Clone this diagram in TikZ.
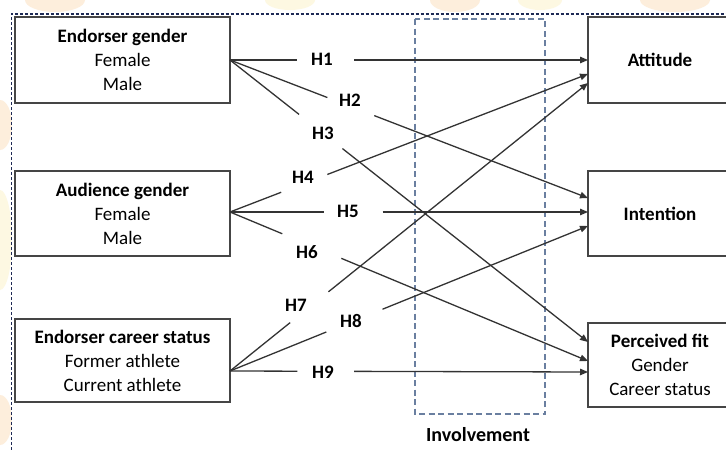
\documentclass[tikz,border=0pt]{standalone}
\usepackage{fontspec}
\setmainfont{Carlito}
\usetikzlibrary{arrows.meta,calc}
\definecolor{boxline}{HTML}{454545}
\definecolor{arrline}{HTML}{333333}
\definecolor{frameblue}{HTML}{1E2A55}
\definecolor{involve}{HTML}{6A7FA0}
\definecolor{wmorange}{HTML}{FDEEDC}
\definecolor{wmyellow}{HTML}{FDF8E2}
\tikzset{
  box/.style={draw=boxline,line width=1.6pt,fill=white,outer sep=0pt,inner sep=0pt,
    minimum width=#1,align=center,font=\fontsize{19}{24}\selectfont},
  hlab/.style={font=\bfseries\fontsize{19}{22}\selectfont,inner sep=0pt,text=black},
  seg/.style={draw=arrline,line width=1.3pt},
  arr/.style={seg,-{Triangle[length=8pt,width=6.5pt]}},
}
\begin{document}
\begin{tikzpicture}[x=1pt,y=-1pt]
\useasboundingbox (0,0) rectangle (726,450);
\clip (0,0) rectangle (726,450);
\fill[white] (0,0) rectangle (726,450);
% faint watermark in the margins
\fill[wmorange] (55,0) ellipse (30pt and 12pt);
\fill[wmyellow] (290,0) ellipse (25pt and 10pt);
\fill[wmorange] (455,0) ellipse (25pt and 12pt);
\fill[wmyellow] (540,0) ellipse (22pt and 10pt);
\fill[wmorange] (675,0) ellipse (35pt and 12pt);
\fill[wmorange] (0,125) ellipse (12pt and 25pt);
\fill[wmyellow] (0,240) ellipse (12pt and 50pt);
\fill[wmorange] (0,420) ellipse (12pt and 25pt);
\fill[white] (11.5,14) rectangle (726,450);
% outer frame
\draw[frameblue,line width=1.1pt,dash pattern=on 3pt off 2pt] (11.5,460) -- (11.5,14) -- (740,14);
% involvement box
\draw[involve,line width=1.3pt,dash pattern=on 6pt off 3.5pt] (415,19) rectangle (545,414);
\node[font=\bfseries\fontsize{20}{24}\selectfont] (inv) at (478,435) {Involvement};
% left boxes
\node[box=215pt,minimum height=86pt] (eg) at (122.5,60) {\textbf{Endorser gender}\\Female\\Male};
\node[box=215pt,minimum height=85pt] (ag) at (122.5,213.5) {\textbf{Audience gender}\\Female\\Male};
\node[box=215pt,minimum height=83pt] (ec) at (122.5,360.5) {\textbf{Endorser career status}\\Former athlete\\Current athlete};
% right boxes
\node[box=144pt,minimum height=86pt] (att) at (660,60) {\textbf{Attitude}};
\node[box=144pt,minimum height=85pt] (int) at (660,213.5) {\textbf{Intention}};
\node[box=144pt,minimum height=84pt] (pf) at (660,365) {\textbf{Perceived fit}\\Gender\\Career status};
% sources
\coordinate (s1) at (eg.east);
\coordinate (s2) at ([yshift=1.5pt]ag.east);
\coordinate (s3) at ([yshift=-10.5pt]ec.east);
% targets
\coordinate (t1) at (att.west);
\coordinate (t4) at ([yshift=-14pt]att.west);
\coordinate (t7) at ([yshift=-23pt]att.west);
\coordinate (t2) at ([yshift=15.5pt]int.west);
\coordinate (t5) at ([yshift=1.5pt]int.west);
\coordinate (t8) at ([yshift=-12.5pt]int.west);
\coordinate (t3) at ([yshift=23pt]pf.west);
\coordinate (t6) at ([yshift=4pt]pf.west);
\coordinate (t9) at ([yshift=-7pt]pf.west);
% labels
\node[hlab] (h1) at (322,59) {H1};
\node[hlab] (h2) at (350,100) {H2};
\node[hlab] (h3) at (323,133) {H3};
\node[hlab] (h4) at (303,177) {H4};
\node[hlab] (h5) at (348,211) {H5};
\node[hlab] (h6) at (307,252) {H6};
\node[hlab] (h7) at (296,305) {H7};
\node[hlab] (h8) at (351,321) {H8};
\node[hlab] (h9) at (323,372) {H9};
% hypotheses
\draw[seg] (s1) -- ($(s1)!0.188!(t1)$); \draw[arr] ($(s1)!0.347!(t1)$) -- (t1);
\draw[seg] (s1) -- ($(s1)!0.272!(t2)$); \draw[arr] ($(s1)!0.403!(t2)$) -- (t2);
\draw[seg] (s1) -- ($(s1)!0.193!(t3)$); \draw[arr] ($(s1)!0.314!(t3)$) -- (t3);
\draw[seg] (s2) -- ($(s2)!0.143!(t4)$); \draw[arr] ($(s2)!0.272!(t4)$) -- (t4);
\draw[seg] (s2) -- ($(s2)!0.263!(t5)$); \draw[arr] ($(s2)!0.426!(t5)$) -- (t5);
\draw[seg] (s2) -- ($(s2)!0.146!(t6)$); \draw[arr] ($(s2)!0.311!(t6)$) -- (t6);
\draw[seg] (s3) -- ($(s3)!0.168!(t7)$); \draw[arr] ($(s3)!0.275!(t7)$) -- (t7);
\draw[seg] (s3) -- ($(s3)!0.269!(t8)$); \draw[arr] ($(s3)!0.426!(t8)$) -- (t8);
\draw[seg] (s3) -- ($(s3)!0.188!(t9)$); \draw[arr] ($(s3)!0.347!(t9)$) -- (t9);
\end{tikzpicture}
\end{document}
